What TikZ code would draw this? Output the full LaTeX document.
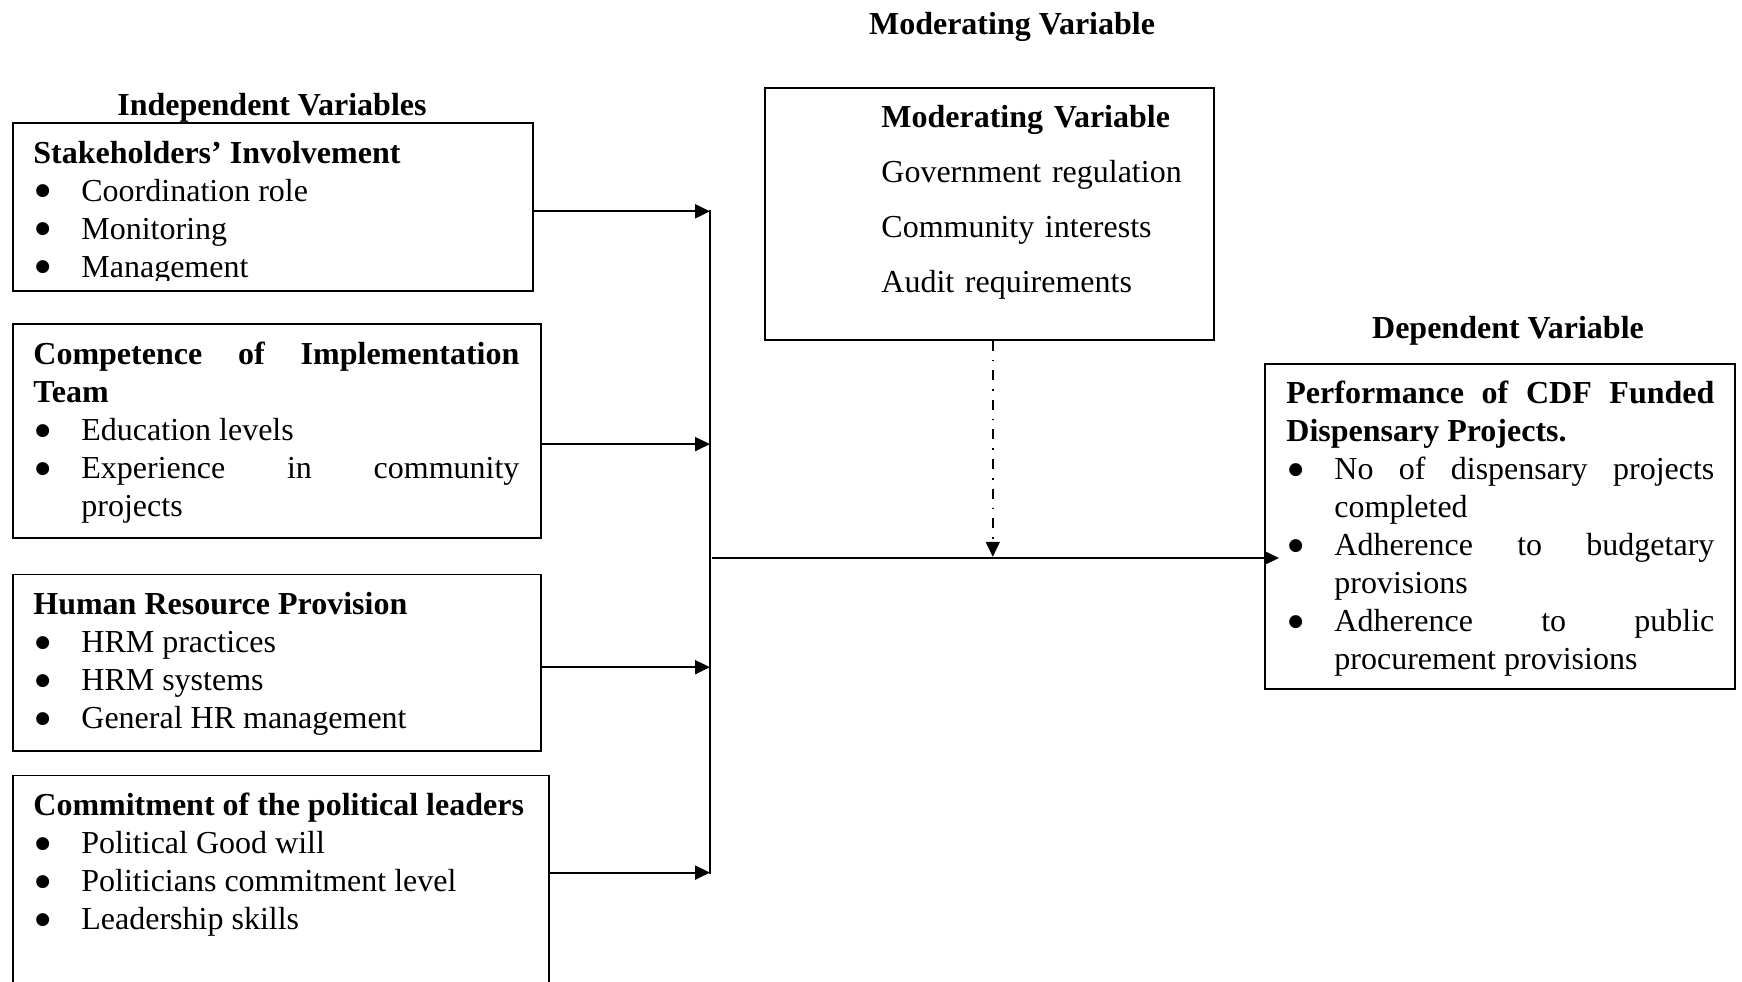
\documentclass[tikz,border=0pt]{standalone}
\usepackage{fontspec}
\setmainfont{Liberation Serif}
\newfontfamily\symfont{DejaVu Sans}
\usepackage{tikz}
\usetikzlibrary{arrows.meta,positioning,calc}
\setlength{\parindent}{0pt}

\newcommand{\topstrut}{\rule{0pt}{13.3pt}}
\newcommand{\bitem}[1]{\par\hangindent=24pt\hangafter=1\noindent\makebox[24pt][l]{\hspace{1pt}\raisebox{2.6pt}{\symfont\fontsize{8.5}{19}\selectfont ●}}#1}

\begin{document}
\begin{tikzpicture}[x=0.5pt, y=-0.5pt,
  every node/.style={font=\fontsize{16}{19}\selectfont},
  box/.style={draw, line width=0.8pt, inner sep=0pt, anchor=north west},
  txt/.style={inner sep=0pt, align=justify, text width=#1},
  head/.style={font=\fontsize{16}{19}\selectfont\bfseries, inner sep=0pt, anchor=base},
  arr/.style={line width=1pt, -{Triangle[length=7.5pt, width=7pt]}},
  modarr/.style={line width=0.9pt, dash pattern=on 5pt off 4.5pt on 0.8pt off 4.5pt, -{Triangle[length=7.5pt, width=7pt]}}
]
\useasboundingbox (0,0) rectangle (1742,981);

% boxes
\node[box, minimum width=260pt, minimum height=84pt] (box1) at (12,122) {};
\node[box, minimum width=264pt, minimum height=107pt, below=15.85pt of box1.south west, anchor=north west] (box2) {};
\node[box, minimum width=264pt, minimum height=88.3pt, below=17.35pt of box2.south west, anchor=north west] (box3) {};
\node[box, minimum width=268pt, minimum height=115pt, below=11.5pt of box3.south west, anchor=north west] (box4) {};
\node[box, minimum width=224.5pt, minimum height=126pt] (modbox) at (764,87) {};
\node[box, minimum width=235pt, minimum height=162.5pt] (depbox) at (1264,363) {};

% headings
\node[head] (modhead) at (1012,34) {Moderating Variable};
\node[head] (indhead) at (272,115) {Independent Variables};
\node[head] (dephead) at (1508,338) {Dependent Variable};

% box texts
\begin{scope}
  \clip (box1.north west) rectangle ([yshift=5.5pt]box1.south east);
  \node[txt=239pt, below right=7pt and 10.5pt of box1.north west] (stake) {\topstrut\textbf{Stakeholders' Involvement}\bitem{Coordination role}\bitem{Monitoring}\bitem{Management}\par};
\end{scope}
\node[txt=243pt, below right=7pt and 10.5pt of box2.north west] (team) {\topstrut\textbf{Competence of Implementation\linebreak Team}\bitem{Education levels}\bitem{Experience in community\linebreak projects}\par};
\node[txt=243pt, below right=7pt and 10.5pt of box3.north west] (hrm) {\topstrut\textbf{Human Resource Provision}\bitem{HRM practices}\bitem{HRM systems}\bitem{General HR management}\par};
\node[txt=252pt, below right=7pt and 10.5pt of box4.north west] (polit) {\topstrut\textbf{Commitment of the political leaders}\bitem{Political Good will}\bitem{Politicians commitment level}\bitem{Leadership skills}\par};
\node[txt=160pt, align=left, font=\fontsize{16}{27.5}\selectfont, below right=6.7pt and 58.5pt of modbox.north west] (modtxt) {\topstrut\textbf{Moderating Variable}\\Government regulation\\Community interests\\Audit requirements};
\node[txt=214pt, below right=6.7pt and 11pt of depbox.north west] (perf) {\topstrut\textbf{Performance of CDF Funded\linebreak Dispensary Projects.}\bitem{No of dispensary projects\linebreak completed}\bitem{Adherence to budgetary\linebreak provisions}\bitem{Adherence to public\linebreak procurement provisions}\par};

% connectors
\coordinate (spinetop) at (710,210);
\coordinate (spinebot) at (710,874);
\coordinate (hub) at (712,558);
\draw[line width=0.8pt] (spinetop) -- (spinebot);
\foreach \b/\s in {box1/-2.25pt, box2/-6.5pt, box3/-2.25pt, box4/9pt}
  \draw[arr] ($(\b.east)+(0,\s)$) -- ($(\b.east -| spinetop)+(0,\s)$);
\draw[arr] (hub) -- ($(hub -| depbox.west)+(7.5pt,0)$);
\coordinate (modfoot) at ($(modbox.south)+(1.75pt,0)$);
\draw[modarr] (modfoot) -- ($(modfoot |- hub)+(0,0.6pt)$);
\end{tikzpicture}
\end{document}
